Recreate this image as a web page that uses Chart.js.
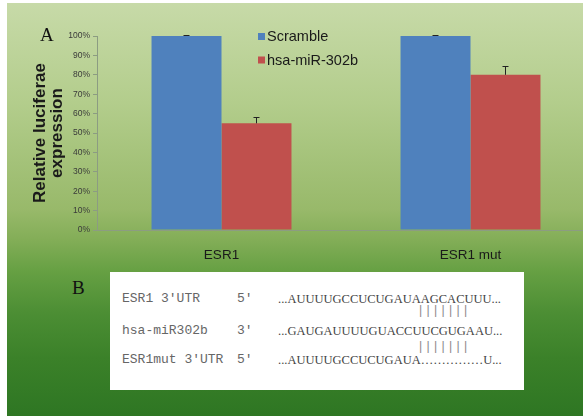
<!DOCTYPE html>
<html>
<head>
<meta charset="utf-8">
<script src="https://cdn.jsdelivr.net/npm/chart.js@4.4.1/dist/chart.umd.min.js"></script>
<style>
  html, body { margin: 0; padding: 0; width: 583px; height: 416px; overflow: hidden; background: #fff; }
  #bg {
    position: absolute; left: 7px; top: 3px; right: 0; bottom: 0;
    background: linear-gradient(to bottom,
      #c7daa8 0%, #b3cd8c 24%, #98b96a 50%, #84ae58 57%, #66a043 65%,
      #4c8e34 75%, #3b8129 86%, #2e7623 100%);
  }
  #wrap { position: absolute; left: 0; top: 0; width: 600px; height: 262px; }
  .panel { position: absolute; font-family: "Liberation Serif", "Times New Roman", serif; font-size: 19px; color: #111; line-height: 20px; }
  #seqBox { position: absolute; left: 110px; top: 272px; width: 414px; height: 118px; background: #fff; }
  .t { position: absolute; white-space: pre; line-height: 14px; }
  .mono { font-family: "Liberation Mono", "Courier New", monospace; font-size: 13px; color: #666; }
  .seq { font-family: "Liberation Serif", "Times New Roman", serif; font-size: 12.5px; color: #444; }
  .pipes { font-family: "Liberation Mono", monospace; font-size: 12px; color: #888; letter-spacing: 0.3px; }
</style>
</head>
<body>
<div id="bg"></div>
<div id="wrap"><canvas id="c" width="600" height="262"></canvas></div>
<div class="panel" style="left:40px; top:25px;">A</div>
<div class="panel" style="left:72px; top:278px;">B</div>

<div id="seqBox"></div>
<div class="t mono" style="left:122px; top:292px;">ESR1 3′UTR</div>
<div class="t mono" style="left:237px; top:292px;">5'</div>
<div class="t seq"  style="left:278px; top:292px;">...AUUUUGCCUCUGAUAAGCACUUU...</div>
<div class="t pipes" style="left:417px; top:304px;">|||||||</div>
<div class="t mono" style="left:122px; top:324px;">hsa-miR302b</div>
<div class="t mono" style="left:237px; top:324px;">3'</div>
<div class="t seq"  style="left:278px; top:324px;">...GAUGAUUUUGUACCUUCGUGAAU...</div>
<div class="t pipes" style="left:417px; top:340px;">|||||||</div>
<div class="t mono" style="left:122px; top:353px;">ESR1mut 3′UTR</div>
<div class="t mono" style="left:237px; top:353px;">5'</div>
<div class="t seq"  style="left:278px; top:353px;">...AUUUUGCCUCUGAUA……………U...</div>

<script>
// Relative luciferase expression per construct
const categories = ['ESR1', 'ESR1 mut'];
const scrambleValues = [100, 100];
const scrambleErrors = [0.4, 0.4];
const mirValues = [55, 80];
const mirErrors = [3, 4.5];
const yTicks = [0, 10, 20, 30, 40, 50, 60, 70, 80, 90, 100];

// Upper error whiskers with a short cap
const errorBars = {
  id: 'errorBars',
  afterDatasetsDraw(chart) {
    const { ctx } = chart;
    const y = chart.scales.y;
    chart.data.datasets.forEach((ds, i) => {
      chart.getDatasetMeta(i).data.forEach((bar, j) => {
        const base = y.getPixelForValue(ds.data[j]);
        const top = y.getPixelForValue(ds.data[j] + ds.errors[j]);
        ctx.save();
        ctx.strokeStyle = '#222';
        ctx.lineWidth = 1;
        ctx.beginPath();
        ctx.moveTo(Math.round(bar.x) + 0.5, base);
        ctx.lineTo(Math.round(bar.x) + 0.5, top);
        ctx.moveTo(bar.x - 3, Math.round(top) + 0.5);
        ctx.lineTo(bar.x + 3, Math.round(top) + 0.5);
        ctx.stroke();
        ctx.restore();
      });
    });
  }
};

// Legend drawn inside the plot area
const insideLegend = {
  id: 'insideLegend',
  afterDraw(chart) {
    const { ctx } = chart;
    ctx.save();
    ctx.font = '14.5px "Liberation Sans", Arial, sans-serif';
    ctx.textBaseline = 'middle';
    chart.data.datasets.forEach((ds, i) => {
      const cy = 36.5 + i * 23.5;
      ctx.fillStyle = ds.backgroundColor;
      ctx.fillRect(258, cy - 3.5, 7, 7);
      ctx.fillStyle = '#1a1a1a';
      ctx.fillText(ds.label, 267, cy + 0.5);
    });
    ctx.restore();
  }
};

new Chart(document.getElementById('c'), {
  type: 'bar',
  data: {
    labels: categories,
    datasets: [
      { label: 'Scramble', data: scrambleValues, errors: scrambleErrors, backgroundColor: '#4f81bd' },
      { label: 'hsa-miR-302b', data: mirValues, errors: mirErrors, backgroundColor: '#c0504d' }
    ]
  },
  options: {
    responsive: false,
    animation: false,
    devicePixelRatio: 1,
    categoryPercentage: 0.562,
    barPercentage: 1,
    layout: { padding: { left: 0, right: 5, top: 36, bottom: 0 } },
    plugins: { legend: { display: false }, tooltip: { enabled: false } },
    scales: {
      x: {
        grid: { display: false },
        border: { display: true, color: '#8c9c82' },
        ticks: { font: { family: '"Liberation Sans", Arial, sans-serif', size: 13.5 }, color: '#1a1a1a', padding: 9 },
        afterFit(s) { s.height = 32; }
      },
      y: {
        min: 0, max: 100,
        afterBuildTicks(s) { s.ticks = yTicks.map(v => ({ value: v })); },
        ticks: { callback: v => v + '%', font: { family: '"Liberation Sans", Arial, sans-serif', size: 8.5 }, color: '#3a3a3a', padding: 3 },
        grid: { drawOnChartArea: false, drawTicks: true, tickLength: 4, color: '#8c9c82' },
        border: { color: '#8c9c82' },
        title: {
          display: true,
          text: ['Relative luciferae', 'expression'],
          font: { family: '"Liberation Sans", Arial, sans-serif', size: 17, weight: 'bold', lineHeight: 1.0 },
          color: '#1a1a1a',
          padding: { top: 31.5, bottom: 0 }
        },
        afterFit(s) { s.width = 97; }
      }
    }
  },
  plugins: [errorBars, insideLegend]
});
</script>
</body>
</html>
